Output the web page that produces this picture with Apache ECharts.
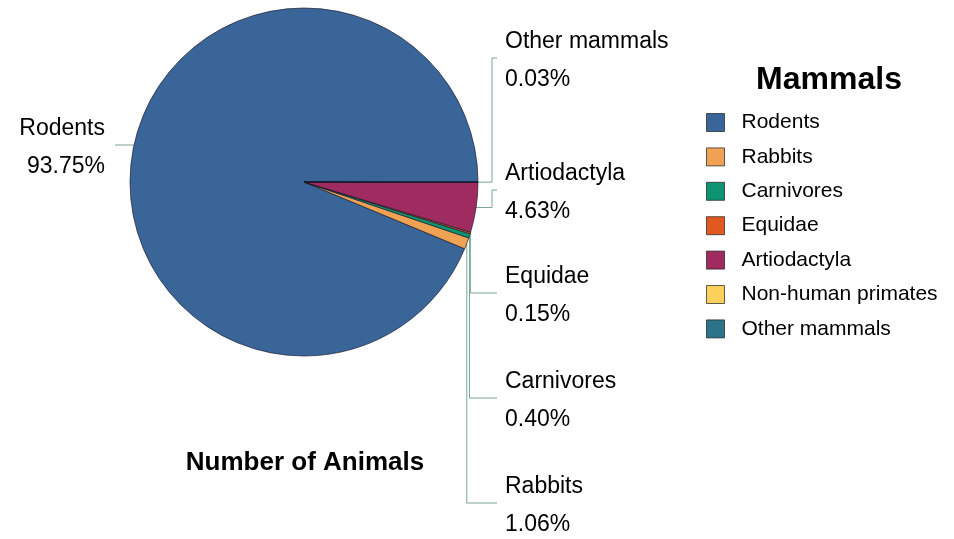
<!DOCTYPE html>
<html>
<head>
<meta charset="utf-8">
<script src="https://cdn.jsdelivr.net/npm/echarts@6/dist/echarts.min.js"></script>
<style>html,body{margin:0;padding:0;background:#fff}#c{width:954px;height:539px}</style>
</head>
<body>
<div id="c"></div>
<script>
var categories = ['Rodents', 'Rabbits', 'Carnivores', 'Equidae', 'Artiodactyla', 'Non-human primates', 'Other mammals'];
var percentages = [93.75, 1.06, 0.40, 0.15, 4.63, 0, 0.03];
var colors = ['#3a6599', '#f0a254', '#0e9470', '#e05a20', '#a02b60', '#fdd05c', '#2a7388'];

var CX = 304, CY = 182, R = 174;
var FONT = '"Liberation Sans", Arial, sans-serif';

// label placement (layout only)
var labelSpots = {
  'Rodents':       { side: 'left',  y: 145 },
  'Other mammals': { side: 'right', y: 58,  jog: 492 },
  'Artiodactyla':  { side: 'right', y: 190, jog: 492 },
  'Equidae':       { side: 'right', y: 293 },
  'Carnivores':    { side: 'right', y: 398 },
  'Rabbits':       { side: 'right', y: 503 }
};
var TEXT_SHIFT = 3;

var chart = echarts.init(document.getElementById('c'));

var data = categories.map(function (name, i) {
  var item = { name: name, value: percentages[i] };
  if (!labelSpots[name]) {
    item.label = { show: false };
    item.labelLine = { show: false };
  }
  return item;
});

chart.setOption({
  animation: false,
  color: colors,
  title: [
    { text: 'Mammals', left: 829, top: 64, textAlign: 'center', padding: 0,
      textStyle: { fontFamily: FONT, fontSize: 32, fontWeight: 'bold', color: '#000' } },
    { text: 'Number of Animals', left: 305, top: 450, textAlign: 'center', padding: 0,
      textStyle: { fontFamily: FONT, fontSize: 26, fontWeight: 'bold', color: '#000' } }
  ],
  legend: {
    orient: 'vertical',
    left: 706,
    top: 112,
    padding: 0,
    itemWidth: 18,
    itemHeight: 18,
    itemGap: 13.4,
    icon: 'rect',
    data: categories,
    itemStyle: { borderColor: 'rgba(30,30,30,0.7)', borderWidth: 1 },
    textStyle: { fontFamily: FONT, fontSize: 21, lineHeight: 18, color: '#000', padding: [0, 0, 0, 12] }
  },
  series: [{
    type: 'pie',
    center: [CX, CY],
    radius: R,
    startAngle: 0,
    clockwise: false,
    avoidLabelOverlap: false,
    legendHoverLink: false,
    itemStyle: { borderColor: 'rgba(25,25,45,0.85)', borderWidth: 0.8 },
    label: {
      show: true,
      position: 'outside',
      fontFamily: FONT,
      formatter: function (p) { return '{n|' + p.name + '}\n{p|' + p.value.toFixed(2) + '%}'; },
      rich: {
        n: { fontFamily: FONT, fontSize: 23, color: '#000', lineHeight: 38 },
        p: { fontFamily: FONT, fontSize: 23, color: '#000', lineHeight: 38 }
      }
    },
    labelLine: { show: true, lineStyle: { color: '#78a595', width: 1 } },
    labelLayout: function (p) {
      var name = categories[p.dataIndex];
      var s = labelSpots[name];
      if (!s) return {};
      var edge = p.labelLinePoints ? p.labelLinePoints[0] : [CX, CY];
      if (s.side === 'left') {
        var ex = CX - Math.sqrt(R * R - (s.y - CY) * (s.y - CY));
        return {
          x: 105, y: s.y + TEXT_SHIFT, align: 'right', verticalAlign: 'middle',
          labelLinePoints: [[ex, s.y], [115, s.y]]
        };
      }
      var pts;
      if (s.jog) {
        pts = [edge, [s.jog, edge[1]], [s.jog, s.y], [497, s.y]];
      } else {
        pts = [edge, [edge[0], s.y], [497, s.y]];
      }
      return {
        x: 505, y: s.y + TEXT_SHIFT, align: 'left', verticalAlign: 'middle',
        labelLinePoints: pts
      };
    },
    data: data
  }]
});
</script>
</body>
</html>
